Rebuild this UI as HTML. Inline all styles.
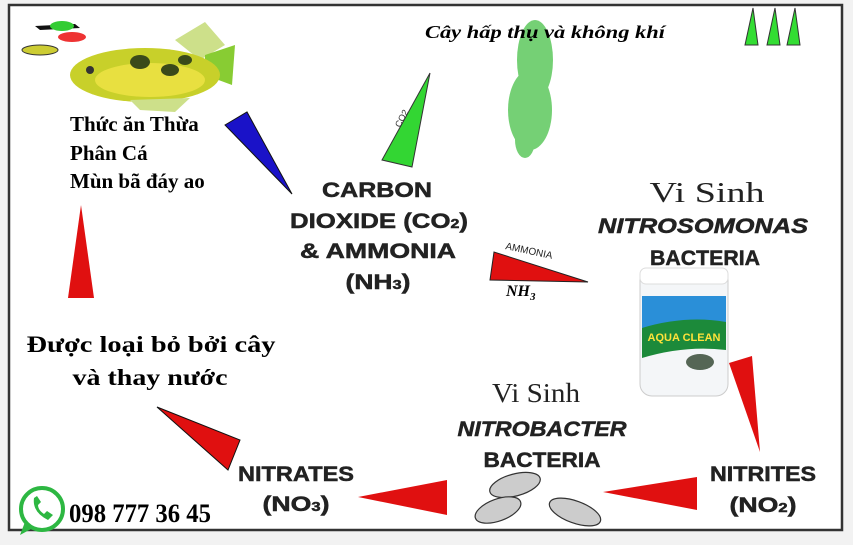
<!DOCTYPE html>
<html><head><meta charset="utf-8"><style>
html,body{margin:0;padding:0;background:#f2f2f2;}
svg{display:block}
.sb{font-family:"Liberation Sans",sans-serif;font-weight:bold;fill:#222;stroke:#222;stroke-width:0.5}
.sr{font-family:"Liberation Serif",serif;font-weight:bold;fill:#000}
</style></head><body>
<svg width="853" height="545" viewBox="0 0 853 545" xmlns="http://www.w3.org/2000/svg">
<rect x="0" y="0" width="853" height="545" fill="#f2f2f2"/>
<rect x="9" y="5" width="833" height="525" fill="#fff" stroke="#333" stroke-width="2.5"/>
<g>
<path d="M35 26 L75 24 L80 28 L40 30Z" fill="#111"/><ellipse cx="62" cy="26" rx="12" ry="5" fill="#3c3"/>
<ellipse cx="72" cy="37" rx="14" ry="5" fill="#e33"/>
<ellipse cx="40" cy="50" rx="18" ry="5" fill="#cc3" stroke="#333"/>
<path d="M175 40 L205 22 L225 45 L200 60Z" fill="#cde08a"/>
<path d="M205 55 L235 45 L232 85 L205 75Z" fill="#8c3"/>
<ellipse cx="145" cy="75" rx="75" ry="27" fill="#c8d02a"/>
<ellipse cx="150" cy="80" rx="55" ry="17" fill="#e8e040"/>
<ellipse cx="140" cy="62" rx="10" ry="7" fill="#3a4a1a"/><ellipse cx="170" cy="70" rx="9" ry="6" fill="#3a4a1a"/><ellipse cx="185" cy="60" rx="7" ry="5" fill="#3a4a1a"/>
<circle cx="90" cy="70" r="4" fill="#333"/>
<path d="M130 100 L190 98 L175 112 L140 110Z" fill="#cde08a"/>
</g>
<g fill="#5ec85e" opacity="0.85">
<ellipse cx="535" cy="60" rx="18" ry="40"/><ellipse cx="530" cy="110" rx="22" ry="40"/><ellipse cx="525" cy="140" rx="10" ry="18"/>
</g>
<g fill="#3d3" stroke="#333" stroke-width="1"><polygon points="745,45 753,8 758,45"/><polygon points="767,45 775,8 780,45"/><polygon points="787,45 795,8 800,45"/></g>
<polygon points="225,125 247,112 292,194" fill="#1a12c8" stroke="#111"/>
<polygon points="382,160 430,73 412,167" fill="#33d633" stroke="#333"/>
<text x="0" y="0" transform="translate(400,128) rotate(-62)" font-family="Liberation Sans" font-size="9" fill="#333">CO2</text>
<polygon points="68,298 81,205 94,298" fill="#e01010"/>
<polygon points="157,407 240,440 228,470" fill="#e01010" stroke="#111"/>
<polygon points="358,497 447,480 447,515" fill="#e01010"/>
<polygon points="603,492 697,477 697,510" fill="#e01010"/>
<polygon points="729,363 752,356 760,452" fill="#e01010"/>
<polygon points="494,252 490,280 588,282" fill="#e01010" stroke="#222"/>
<text transform="translate(505,249) rotate(12)" font-family="Liberation Sans" font-size="10" fill="#222">AMMONIA</text>
<text x="506" y="296" font-family="Liberation Serif" font-weight="bold" font-style="italic" font-size="16">NH<tspan font-size="11" dy="4">3</tspan></text>
<g>
<rect x="640" y="268" width="88" height="128" rx="12" fill="#f4f6f8" stroke="#ccc"/>
<rect x="640" y="268" width="88" height="16" rx="6" fill="#fff" stroke="#ddd"/>
<rect x="642" y="296" width="84" height="45" fill="#2a8fd8"/>
<path d="M642 328 Q685 315 726 322 L726 350 Q685 345 642 358Z" fill="#1c8a3a"/>
<text x="684" y="341" text-anchor="middle" font-family="Liberation Sans" font-weight="bold" font-size="11" fill="#ffe23a">AQUA CLEAN</text>
<ellipse cx="700" cy="362" rx="14" ry="8" fill="#565"/>
</g>
<g fill="#ccc" stroke="#333" stroke-width="1.2">
<ellipse cx="515" cy="485" rx="26" ry="11" transform="rotate(-15 515 485)"/>
<ellipse cx="498" cy="510" rx="24" ry="11" transform="rotate(-20 498 510)"/>
<ellipse cx="575" cy="512" rx="27" ry="11" transform="rotate(20 575 512)"/>
</g>
<circle cx="42" cy="509" r="21" fill="#fff" stroke="#2db742" stroke-width="4"/>
<path d="M25 522 L20 535 L33 528Z" fill="#2db742"/>
<path d="M34 498 Q32 512 48 520 L53 515 L47 511 L44 514 Q38 510 38 505 L41 502 L37 496Z" fill="#2db742"/>
<text x="425" y="38" class="sr" font-style="italic" font-size="18" textLength="240" lengthAdjust="spacingAndGlyphs">Cây hấp thụ và không khí</text>
<text class="sr" font-size="21"><tspan x="70" y="131">Thức ăn Thừa</tspan><tspan x="70" y="160">Phân Cá</tspan><tspan x="70" y="188">Mùn bã đáy ao</tspan></text>
<g class="sb" font-size="21" text-anchor="middle">
<text x="377" y="197" textLength="110" lengthAdjust="spacingAndGlyphs">CARBON</text>
<text x="379" y="228" textLength="178" lengthAdjust="spacingAndGlyphs">DIOXIDE (CO<tspan font-size="13">2</tspan>)</text>
<text x="378" y="258" textLength="156" lengthAdjust="spacingAndGlyphs">&amp; AMMONIA</text>
<text x="378" y="289" textLength="65" lengthAdjust="spacingAndGlyphs">(NH<tspan font-size="13">3</tspan>)</text>
<text x="703" y="233" font-style="italic" textLength="210" lengthAdjust="spacingAndGlyphs">NITROSOMONAS</text>
<text x="705" y="265" textLength="110" lengthAdjust="spacingAndGlyphs">BACTERIA</text>
<text x="542" y="436" font-style="italic" textLength="169" lengthAdjust="spacingAndGlyphs">NITROBACTER</text>
<text x="542" y="467" textLength="117" lengthAdjust="spacingAndGlyphs">BACTERIA</text>
<text x="296" y="481" textLength="116" lengthAdjust="spacingAndGlyphs">NITRATES</text>
<text x="296" y="511" textLength="67" lengthAdjust="spacingAndGlyphs">(NO<tspan font-size="13">3</tspan>)</text>
<text x="763" y="481" textLength="106" lengthAdjust="spacingAndGlyphs">NITRITES</text>
<text x="763" y="512" textLength="67" lengthAdjust="spacingAndGlyphs">(NO<tspan font-size="13">2</tspan>)</text>
</g>
<text x="707" y="202" text-anchor="middle" font-family="Liberation Serif" font-size="28" fill="#222" textLength="115" lengthAdjust="spacingAndGlyphs">Vi Sinh</text>
<text x="536" y="402" text-anchor="middle" font-family="Liberation Serif" font-size="27" fill="#222" textLength="88" lengthAdjust="spacingAndGlyphs">Vi Sinh</text>
<text class="sr" font-size="23" text-anchor="middle" x="151" y="352" textLength="249" lengthAdjust="spacingAndGlyphs">Được loại bỏ bởi cây</text>
<text class="sr" font-size="23" text-anchor="middle" x="150" y="385" textLength="155" lengthAdjust="spacingAndGlyphs">và thay nước</text>
<text x="69" y="522" class="sr" font-size="26" textLength="142" lengthAdjust="spacingAndGlyphs">098 777 36 45</text>
</svg>
</body></html>
